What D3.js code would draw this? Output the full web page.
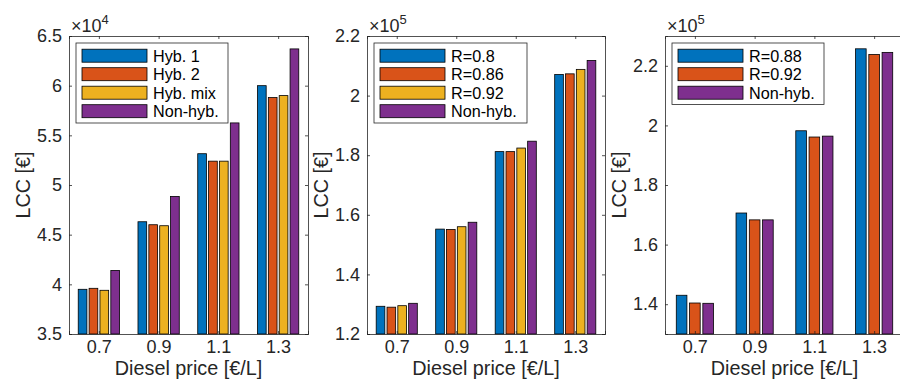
<!DOCTYPE html>
<html>
<head>
<meta charset="utf-8">
<script src="https://cdn.jsdelivr.net/npm/d3@7"></script>
<style>
  html, body { margin: 0; padding: 0; background: #fff; }
  svg { display: block; font-family: "Liberation Sans", Arial, Helvetica, sans-serif; }
</style>
</head>
<body>
<svg id="chart" width="900" height="379"></svg>
<script>
// Diesel price categories shared by all three panels
const prices = ["0.7", "0.9", "1.1", "1.3"];

// Panel A: hybrid configurations, LCC in €
const hyb1   = [39500, 46300, 53150, 60000];
const hyb2   = [39600, 46000, 52400, 58800];
const hybMix = [39400, 45900, 52400, 59000];
const nonHybA = [41400, 48850, 56250, 63700];

// Panel B: LCC in € for different R
const rB080 = [129300, 155200, 181200, 207100];
const rB086 = [129000, 155100, 181200, 207300];
const rB092 = [129500, 156000, 182400, 208800];
const nonHybB = [130300, 157500, 184700, 211800];

// Panel C: LCC in € for different R
const rC088 = [143000, 170600, 198200, 225700];
const rC092 = [140400, 168300, 196100, 223800];
const nonHybC = [140300, 168300, 196400, 224500];

// Y tick values (in axis units before the exponent)
const ticksA = [3.5, 4, 4.5, 5, 5.5, 6, 6.5];
const ticksB = [1.2, 1.4, 1.6, 1.8, 2, 2.2];
const ticksC = [1.4, 1.6, 1.8, 2, 2.2];

const legendA = ["Hyb. 1", "Hyb. 2", "Hyb. mix", "Non-hyb."];
const legendB = ["R=0.8", "R=0.86", "R=0.92", "Non-hyb."];
const legendC = ["R=0.88", "R=0.92", "Non-hyb."];

const blue = "#0072BD", orange = "#D95319", yellow = "#EDB120", purple = "#7E2F8E";
const axisColor = "#262626";

const panels = [
  { left: 69,  right: 308, exp: 4, domain: [3.5, 6.5], ticks: ticksA,
    series: [hyb1, hyb2, hybMix, nonHybA], names: legendA,
    colors: [blue, orange, yellow, purple], legendW: 152 },
  { left: 367, right: 605, exp: 5, domain: [1.2, 2.2], ticks: ticksB,
    series: [rB080, rB086, rB092, nonHybB], names: legendB,
    colors: [blue, orange, yellow, purple], legendW: 153 },
  { left: 665, right: 904, exp: 5, domain: [1.3, 2.3], ticks: ticksC,
    series: [rC088, rC092, nonHybC], names: legendC,
    colors: [blue, orange, purple], legendW: 152 }
];

const plotTop = 36, plotBottom = 334;
const svg = d3.select("#chart");

panels.forEach(p => {
  const g = svg.append("g");
  const scaleF = Math.pow(10, p.exp);
  const x = d3.scaleLinear().domain([0.5, prices.length + 0.5]).range([p.left, p.right]);
  const y = d3.scaleLinear().domain(p.domain).range([plotBottom, plotTop]);

  // grouped bar geometry (group width and bar width in category units)
  const n = p.series.length;
  const groupW = Math.min(0.8, n / (n + 1.5));
  const slot = groupW / n;
  const barW = 0.8 * slot;

  p.series.forEach((vals, si) => {
    const off = (si - (n - 1) / 2) * slot;
    g.selectAll(null)
      .data(vals)
      .enter().append("rect")
      .attr("x", (d, i) => x(i + 1 + off - barW / 2))
      .attr("width", x(barW) - x(0))
      .attr("y", d => y(d / scaleF))
      .attr("height", d => y(p.domain[0]) - y(d / scaleF))
      .attr("fill", p.colors[si])
      .attr("stroke", "#000")
      .attr("stroke-width", 0.8);
  });

  // axes: left/bottom with labels, top/right ticks only (inward ticks)
  const tickLen = 3;
  const yAxisL = d3.axisLeft(y).tickValues(p.ticks).tickSize(-tickLen).tickPadding(7)
    .tickFormat(d3.format("~g"));
  const yAxisR = d3.axisRight(y).tickValues(p.ticks).tickSize(-tickLen).tickFormat("");
  const xAxisB = d3.axisBottom(x).tickValues(d3.range(1, prices.length + 1)).tickSize(-tickLen)
    .tickPadding(6).tickFormat((d) => prices[d - 1]);
  const xAxisT = d3.axisTop(x).tickValues(d3.range(1, prices.length + 1)).tickSize(-tickLen).tickFormat("");

  const axes = [
    g.append("g").attr("transform", `translate(${p.left},0)`).call(yAxisL),
    g.append("g").attr("transform", `translate(${p.right},0)`).call(yAxisR),
    g.append("g").attr("transform", `translate(0,${plotBottom})`).call(xAxisB),
    g.append("g").attr("transform", `translate(0,${plotTop})`).call(xAxisT)
  ];
  axes.forEach(a => {
    a.select(".domain").attr("stroke", axisColor).attr("stroke-width", 0.8);
    a.selectAll(".tick line").attr("stroke", axisColor).attr("stroke-width", 0.8);
    a.selectAll(".tick text").attr("fill", axisColor)
      .style("font-size", "18px").style("font-family", "'Liberation Sans', Arial, sans-serif");
  });

  // exponent marker
  const ex = g.append("text")
    .attr("x", p.left + 2).attr("y", 32)
    .attr("fill", axisColor).style("font-size", "18px");
  ex.append("tspan").text("×10");
  ex.append("tspan").attr("dy", -8).style("font-size", "13px").text(String(p.exp));

  // axis titles
  g.append("text")
    .attr("x", (p.left + p.right) / 2)
    .attr("y", 375).attr("text-anchor", "middle")
    .attr("fill", axisColor).style("font-size", "19.8px")
    .text("Diesel price [€/L]");
  g.append("text")
    .attr("transform", `translate(${p.left - 39},${(plotTop + plotBottom) / 2}) rotate(-90)`)
    .attr("text-anchor", "middle")
    .attr("fill", axisColor).style("font-size", "19.8px")
    .text("LCC [€]");

  // legend
  const lx = p.left + 7, ly = 43;
  const rowH = 18.5;
  const lh = n * rowH + 6;
  const leg = g.append("g");
  leg.append("rect")
    .attr("x", lx).attr("y", ly).attr("width", p.legendW).attr("height", lh)
    .attr("fill", "#fff").attr("stroke", axisColor).attr("stroke-width", 0.8);
  p.names.forEach((name, i) => {
    const cy = ly + 12.7 + i * rowH;
    leg.append("rect")
      .attr("x", lx + 6).attr("y", cy - 6.5).attr("width", 65).attr("height", 13)
      .attr("fill", p.colors[i]).attr("stroke", "#000").attr("stroke-width", 0.8);
    leg.append("text")
      .attr("x", lx + 77).attr("y", cy + 6)
      .attr("fill", "#000").style("font-size", "16.2px")
      .text(name);
  });
});
</script>
</body>
</html>
